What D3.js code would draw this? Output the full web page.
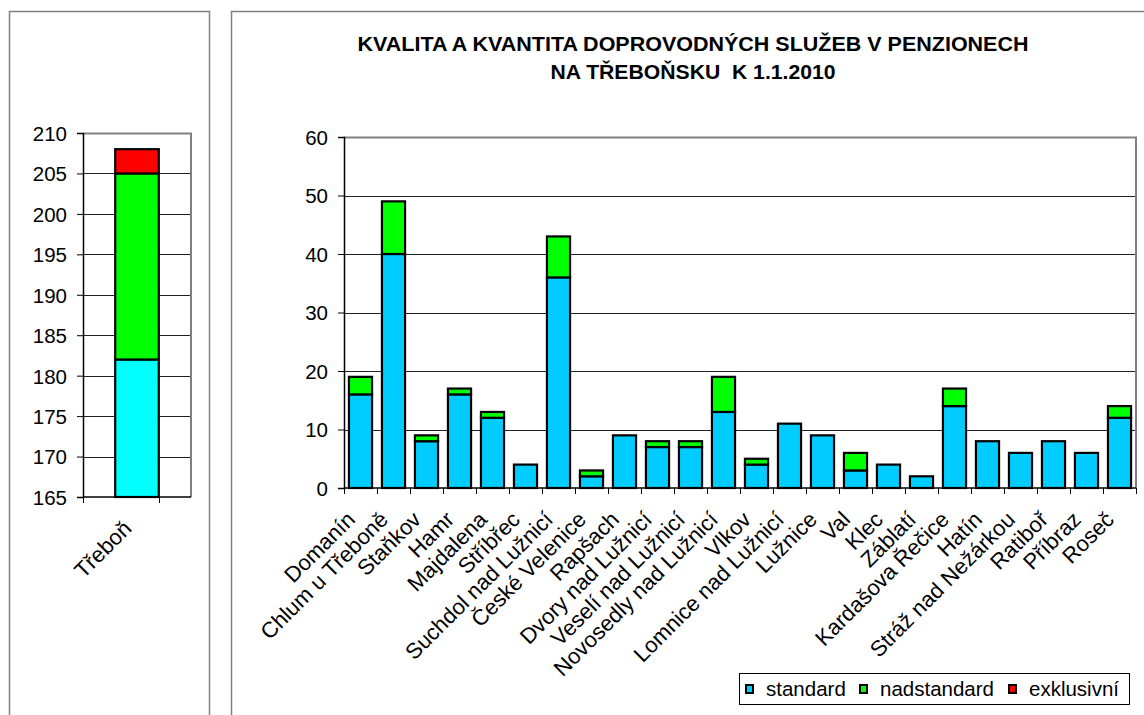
<!DOCTYPE html>
<html>
<head>
<meta charset="utf-8">
<script src="https://cdn.jsdelivr.net/npm/d3@7"></script>
<style>
  body { margin: 0; background: #fff; }
  text { font-family: "Liberation Sans", Arial, sans-serif; fill: #000; }
</style>
</head>
<body>
<div id="canvas"></div>
<script>
(function (d3) {
  'use strict';

  const width = 1144;
  const height = 715;

  // data
  const categories = ['Domanín', 'Chlum u Třeboně', 'Staňkov', 'Hamr', 'Majdalena', 'Stříbřec',
    'Suchdol nad Lužnicí', 'České Velenice', 'Rapšach', 'Dvory nad Lužnicí', 'Veselí nad Lužnicí',
    'Novosedly nad Lužnicí', 'Vlkov', 'Lomnice nad Lužnicí', 'Lužnice', 'Val', 'Klec', 'Záblatí',
    'Kardašova Řečice', 'Hatín', 'Stráž nad Nežárkou', 'Ratiboř', 'Příbraz', 'Roseč'];
  const standard =    [16, 40, 8, 16, 12, 4, 36, 2, 9, 7, 7, 13, 4, 11, 9, 3, 4, 2, 14, 8, 6, 8, 6, 12];
  const nadstandard = [3, 9, 1, 1, 1, 0, 7, 1, 0, 1, 1, 6, 1, 0, 0, 3, 0, 0, 3, 0, 0, 0, 0, 2];
  const exklusivni =  [0, 0, 0, 0, 0, 0, 0, 0, 0, 0, 0, 0, 0, 0, 0, 0, 0, 0, 0, 0, 0, 0, 0, 0];

  const mainCategories = ['Třeboň'];
  const mainStandard = [182];
  const mainNadstandard = [23];
  const mainExklusivni = [3];

  const rightTicks = [0, 10, 20, 30, 40, 50, 60];
  const leftTicks = [165, 170, 175, 180, 185, 190, 195, 200, 205, 210];

  const seriesNames = ['standard', 'nadstandard', 'exklusivní'];
  const keys = ['standard', 'nadstandard', 'exklusivni'];
  const rightColors = ['#00CCFF', '#00FF00', '#FF0000'];
  const leftColors = ['#00FFFF', '#00FF00', '#FF0000'];

  const titleLines = ['KVALITA A KVANTITA DOPROVODNÝCH SLUŽEB V PENZIONECH', 'NA TŘEBOŇSKU  K 1.1.2010'];
  const titleWidths = [671, 285];

  const svg = d3.select('#canvas')
    .append('svg')
    .attr('width', width)
    .attr('height', height);

  // panel frames
  svg.append('rect').attr('x', 9.5).attr('y', 11.5).attr('width', 200).attr('height', 760)
    .attr('fill', 'none').attr('stroke', '#808080').attr('stroke-width', 1.5);
  svg.append('rect').attr('x', 231.5).attr('y', 11.5).attr('width', 960).attr('height', 760)
    .attr('fill', 'none').attr('stroke', '#808080').attr('stroke-width', 1.5);

  const drawChart = (g, opts) => {
    const rows = opts.cats.map((c, i) => ({
      cat: c,
      standard: opts.s[i],
      nadstandard: opts.n[i],
      exklusivni: opts.e[i]
    }));

    const x = d3.scaleBand()
      .domain(opts.cats)
      .range([opts.left, opts.right])
      .paddingInner(opts.padIn)
      .paddingOuter(opts.padOut);

    const y = d3.scaleLinear()
      .domain(opts.domain)
      .range([opts.bottom, opts.top]);

    // gridlines
    g.append('g')
      .selectAll('line')
      .data(opts.ticks.slice(1, -1))
      .enter()
      .append('line')
      .attr('x1', opts.left).attr('x2', opts.right)
      .attr('y1', (d) => Math.round(y(d)) + 0.5).attr('y2', (d) => Math.round(y(d)) + 0.5)
      .attr('stroke', '#222').attr('stroke-width', 1);

    // plot border (top + right)
    g.append('path')
      .attr('d', `M${opts.left},${opts.top + 0.5}H${opts.right}V${opts.bottom}`)
      .attr('fill', 'none').attr('stroke', '#808080').attr('stroke-width', 2);

    // bars
    const stacked = d3.stack().keys(keys)(rows);
    const offset = opts.domain[0];
    g.append('g')
      .selectAll('g')
      .data(stacked)
      .enter()
      .append('g')
      .attr('fill', (d, i) => opts.colors[i])
      .selectAll('rect')
      .data((d) => d.filter((p) => p[1] > p[0]))
      .enter()
      .append('rect')
      .attr('x', (p) => x(p.data.cat))
      .attr('width', x.bandwidth())
      .attr('y', (p) => y(p[1]))
      .attr('height', (p) => y(Math.max(p[0], offset)) - y(p[1]))
      .attr('stroke', '#000')
      .attr('stroke-width', 2.2);

    // y axis
    const yAxis = d3.axisLeft(y).tickValues(opts.ticks).tickSize(6).tickPadding(10).tickFormat(d3.format('d'));
    const ya = g.append('g').attr('transform', `translate(${opts.left},0)`).call(yAxis);
    ya.select('.domain').attr('stroke', '#000').attr('stroke-width', 1.5);
    ya.selectAll('.tick line').attr('stroke', '#000');
    ya.selectAll('.tick text').attr('font-size', 20.5).attr('font-family', '"Liberation Sans", Arial, sans-serif').attr('dy', '0.36em');

    // x axis line and boundary ticks
    g.append('line')
      .attr('x1', opts.left).attr('x2', opts.right)
      .attr('y1', opts.bottom).attr('y2', opts.bottom)
      .attr('stroke', '#000').attr('stroke-width', 1.5);
    const step = x.step();
    const bounds = d3.range(opts.cats.length + 1).map((i) => opts.left + i * step);
    g.append('g')
      .selectAll('line')
      .data(bounds)
      .enter()
      .append('line')
      .attr('x1', (d) => Math.round(d) + 0.5).attr('x2', (d) => Math.round(d) + 0.5)
      .attr('y1', opts.bottom).attr('y2', opts.bottom + 6)
      .attr('stroke', '#000');

    // category labels
    g.append('g')
      .selectAll('text')
      .data(opts.cats)
      .enter()
      .append('text')
      .attr('transform', (d) => `translate(${x(d) + x.bandwidth() / 2 - 15},${opts.bottom + 22}) rotate(-45)`)
      .attr('text-anchor', 'end')
      .attr('dy', '0.7em')
      .attr('font-size', 22)
      .text((d) => d);
  };

  drawChart(svg.append('g'), {
    cats: mainCategories, s: mainStandard, n: mainNadstandard, e: mainExklusivni,
    left: 83, right: 191, top: 133, bottom: 497,
    padIn: 0.425, padOut: 0.425,
    domain: [165, 210], ticks: leftTicks, colors: leftColors
  });

  drawChart(svg.append('g'), {
    cats: categories, s: standard, n: nadstandard, e: exklusivni,
    left: 344, right: 1136, top: 137, bottom: 488,
    padIn: 0.3, padOut: 0.15,
    domain: [0, 60], ticks: rightTicks, colors: rightColors
  });

  // title
  svg.append('g')
    .selectAll('text')
    .data(titleLines)
    .enter()
    .append('text')
    .attr('x', 693)
    .attr('y', (d, i) => 51 + i * 27.5)
    .attr('text-anchor', 'middle')
    .attr('font-size', 21)
    .attr('font-weight', 'bold')
    .attr('textLength', (d, i) => titleWidths[i])
    .attr('lengthAdjust', 'spacingAndGlyphs')
    .style('white-space', 'pre')
    .text((d) => d);

  // legend
  const legend = svg.append('g');
  legend.append('rect').attr('x', 739.5).attr('y', 673.5).attr('width', 390).attr('height', 31)
    .attr('fill', '#fff').attr('stroke', '#000').attr('stroke-width', 1);
  const legendX = [746, 860, 1009];
  seriesNames.forEach((name, i) => {
    legend.append('rect').attr('x', legendX[i]).attr('y', 685).attr('width', 7).attr('height', 8)
      .attr('fill', rightColors[i]).attr('stroke', '#000').attr('stroke-width', 2);
    legend.append('text').attr('x', legendX[i] + 20).attr('y', 696)
      .attr('font-size', 20.5).text(name);
  });

}(d3));
</script>
</body>
</html>
